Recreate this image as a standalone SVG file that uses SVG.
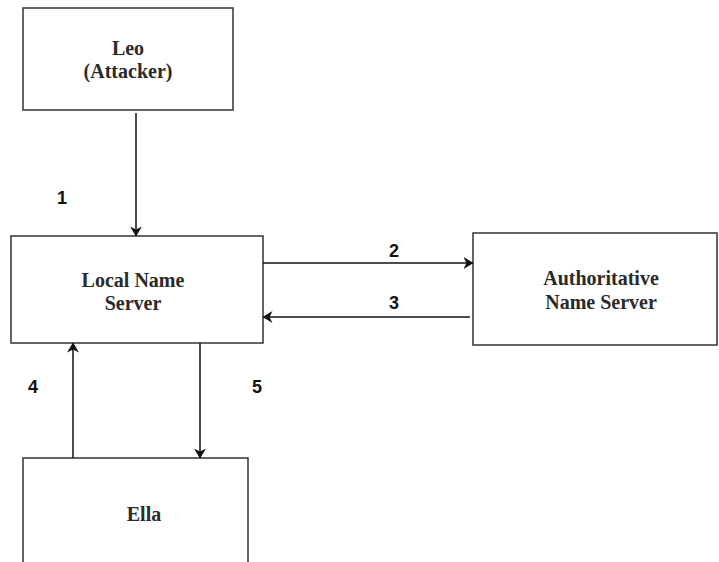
<svg xmlns="http://www.w3.org/2000/svg" width="719" height="562" viewBox="0 0 719 562">
  <style>
    .box { fill: #ffffff; stroke: #333333; stroke-width: 1.5; }
    .name { font-family: "Liberation Serif", "Times New Roman", serif; font-weight: bold; font-size: 20px; fill: #2a2a2a; text-anchor: middle; }
    .num { font-family: "Liberation Sans", Arial, sans-serif; font-weight: bold; font-size: 18px; fill: #111111; text-anchor: middle; }
    .link { stroke: #111111; stroke-width: 1.5; fill: none; marker-end: url(#head); }
  </style>
  <defs>
    <marker id="head" viewBox="0 0 10 12" refX="9.5" refY="6" markerWidth="10" markerHeight="12" markerUnits="userSpaceOnUse" orient="auto">
      <path d="M0,0 L10,6 L0,12 L3,6 Z" fill="#111111"/>
    </marker>
  </defs>
  <rect width="719" height="562" fill="#ffffff"/>

  <g id="leo">
    <rect class="box" x="23" y="8" width="210" height="102"/>
    <text class="name" x="128" y="55">Leo</text>
    <text class="name" x="128" y="78">(Attacker)</text>
  </g>

  <g id="local-name-server">
    <rect class="box" x="11" y="236" width="252" height="107"/>
    <text class="name" x="133" y="287">Local Name</text>
    <text class="name" x="133" y="310">Server</text>
  </g>

  <g id="authoritative-name-server">
    <rect class="box" x="473" y="233" width="244" height="112"/>
    <text class="name" x="601" y="285">Authoritative</text>
    <text class="name" x="601" y="309">Name Server</text>
  </g>

  <g id="ella">
    <rect class="box" x="23" y="458" width="225" height="120"/>
    <text class="name" x="144" y="521">Ella</text>
  </g>

  <g id="connectors">
    <line class="link" x1="136" y1="113" x2="136" y2="236"/>
    <line class="link" x1="263" y1="263" x2="473" y2="263"/>
    <line class="link" x1="470" y1="317" x2="263" y2="317"/>
    <line class="link" x1="73" y1="458" x2="73" y2="343"/>
    <line class="link" x1="200" y1="343" x2="200" y2="458"/>
    <text class="num" x="62" y="204">1</text>
    <text class="num" x="394" y="257">2</text>
    <text class="num" x="394" y="309">3</text>
    <text class="num" x="33" y="393">4</text>
    <text class="num" x="257" y="393">5</text>
  </g>
</svg>
